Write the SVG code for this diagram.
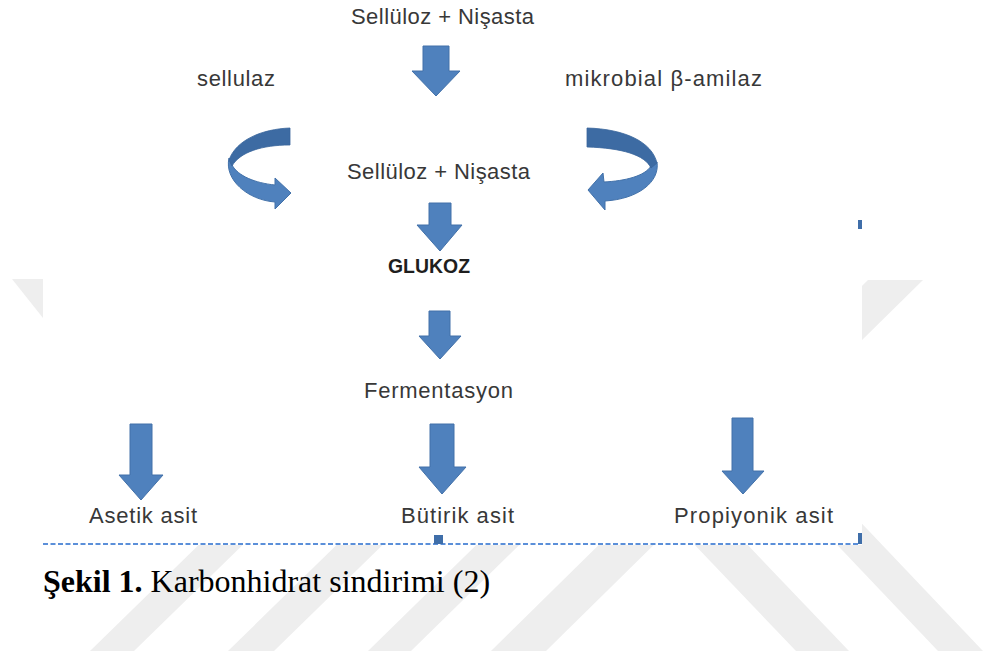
<svg xmlns="http://www.w3.org/2000/svg" width="983" height="655" viewBox="0 0 983 655">
<style>
.wm{fill:#eeeeee}
.t{font-family:"Liberation Sans",Arial,sans-serif;font-size:22px;fill:#383838}
.b{font-family:"Liberation Sans",Arial,sans-serif;font-size:21px;font-weight:bold;fill:#1e1e1e}
.arr{fill:#4f81bd;stroke:#4271a9;stroke-width:1;stroke-linejoin:miter}
.dark{fill:#3d6ba3;stroke:#3a669c;stroke-width:0.8}
.handle{fill:#3f6ea9}
.cap{font-family:"Liberation Serif","Times New Roman",serif;font-size:32px;fill:#000}
</style>
<rect width="983" height="655" fill="#ffffff"/>
<g id="watermark">
<polygon class="wm" points="12,279 60,279 96,318 43,318"/>
<polygon class="wm" points="868,280 923,280 546,651 491,651"/>
<polygon class="wm" points="470,280 514,280 134,651 90,651"/>
<polygon class="wm" points="608,280 654,280 274,651 228,651"/>
<polygon class="wm" points="747,280 790,280 411,651 368,651"/>
<polygon class="wm" points="585,430 638,430 849,651 796,651"/>
<polygon class="wm" points="728,430 773,430 983,651 938,651 "/>
</g>
<rect x="43" y="0" width="819" height="545" fill="#ffffff"/>
<g id="frame">
<line x1="43" y1="544" x2="858" y2="544" stroke="#5b8fd9" stroke-width="2" stroke-dasharray="5 2.5"/>
<rect class="handle" x="858" y="220" width="4" height="9"/>
<rect class="handle" x="858" y="533" width="4" height="11"/>
<rect class="handle" x="434" y="535" width="9" height="9"/>
</g>
<g id="connectors">
<path class="arr" d="M423,46 H449 V71 H460 L436,96 L412,71 H423 Z"/>
<path class="arr" d="M429,203 H451 V225 H462 L440,251 L417,225 H429 Z"/>
<path class="arr" d="M429,311 H450 V336 H461 L440,359 L419,336 H429 Z"/>
<path class="arr" d="M130,424 H152 V475 H163 L141,500 L119,475 H130 Z"/>
<path class="arr" d="M430,424 H454 V467 H466 L442,494 L419,467 H430 Z"/>
<path class="arr" d="M732,418 H753 V471 H764 L743,494 L722,471 H732 Z"/>
<g id="curved-left">
<path class="arr" d="M229,158 C224,180 248,200 275,202 L275,209 L291,193 L275,178 L275,185 C255,183 238,176 232,165 Z"/>
<path class="dark" d="M290,128 C262,129 236,140 229,160 L232,166 C240,152 262,145 290,145 Z"/>
</g>
<g id="curved-right">
<path class="arr" d="M657,162 C660,182 638,199 605,201 L605,210 L588,190 L603,173 L604,182 C625,181 645,176 651,166 Z"/>
<path class="dark" d="M587,128 C625,129 652,142 657,163 L651,168 C645,155 622,148 587,147 Z"/>
</g>
</g>
<g id="n-top"><text class="t" x="351" y="24" textLength="183" lengthAdjust="spacing">Sellüloz + Nişasta</text></g>
<g id="n-sellulaz"><text class="t" x="197" y="86" textLength="78" lengthAdjust="spacing">sellulaz</text></g>
<g id="n-amilaz"><text class="t" x="565" y="86" textLength="197" lengthAdjust="spacing">mikrobial β-amilaz</text></g>
<g id="n-mid"><text class="t" x="347" y="179" textLength="183" lengthAdjust="spacing">Sellüloz + Nişasta</text></g>
<g id="n-glukoz"><text class="b" x="388" y="273" textLength="82" lengthAdjust="spacingAndGlyphs">GLUKOZ</text></g>
<g id="n-ferm"><text class="t" x="364" y="398" textLength="149" lengthAdjust="spacing">Fermentasyon</text></g>
<g id="n-asetik"><text class="t" x="89" y="523" textLength="108" lengthAdjust="spacing">Asetik asit</text></g>
<g id="n-butirik"><text class="t" x="401" y="523" textLength="113" lengthAdjust="spacing">Bütirik asit</text></g>
<g id="n-propiyonik"><text class="t" x="674" y="523" textLength="159" lengthAdjust="spacing">Propiyonik asit</text></g>
<g id="caption"><text class="cap" x="43" y="592"><tspan font-weight="bold">Şekil 1.</tspan> Karbonhidrat sindirimi (2)</text></g>
</svg>
